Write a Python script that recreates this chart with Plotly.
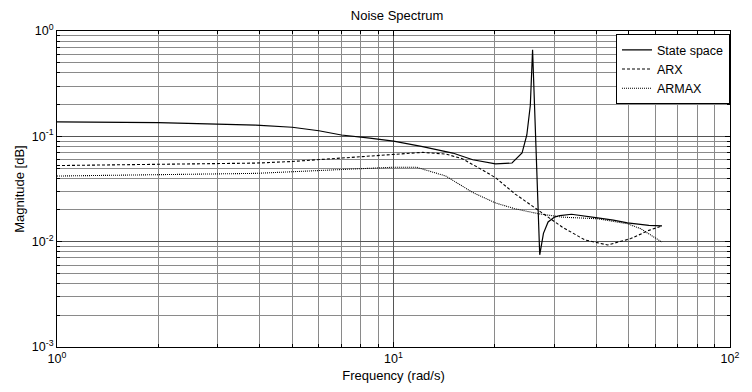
import plotly.graph_objects as go

# State space model spectrum
ss_freq = [1, 2, 3.9, 5, 6, 7, 8.5, 10, 12.2, 15, 17.2, 19, 20.1, 22.5, 24.1, 24.9, 25.5, 25.9,
           27.2, 27.9, 28.8, 30.1, 31.2, 33.8, 37, 40.4, 45, 49.6, 57.4, 62.8]
ss_mag = [0.137, 0.135, 0.128, 0.122, 0.113, 0.103, 0.096, 0.090, 0.080, 0.0694, 0.0599, 0.0565, 0.0547,
          0.0558, 0.0694, 0.103, 0.196, 0.664,
          0.0075, 0.012, 0.0154, 0.0171, 0.0177, 0.0182, 0.0176, 0.0168, 0.016, 0.0151, 0.0143, 0.0141]

# ARX model spectrum
arx_freq = [1, 2, 3.9, 5, 7, 8.05, 10, 12.2, 14.3, 16, 17.9, 20.1, 23, 26.3, 31.7, 37, 43.3, 50.7, 57.4, 62.8]
arx_mag = [0.0528, 0.0539, 0.0557, 0.0577, 0.0623, 0.0646, 0.0679, 0.0704, 0.0679, 0.0614, 0.0502, 0.0405,
           0.0283, 0.0208, 0.0138, 0.0104, 0.0093, 0.0107, 0.0128, 0.0141]

# ARMAX model spectrum
armax_freq = [1, 2, 3.9, 7, 10, 11.7, 14.3, 17.2, 20.1, 23, 27, 31.7, 40.4, 49.6, 54.2, 62.8]
armax_mag = [0.042, 0.0435, 0.0445, 0.0484, 0.0509, 0.0509, 0.042, 0.0293, 0.0233, 0.0205, 0.0184, 0.0171,
             0.0165, 0.0148, 0.0133, 0.0099]

series_names = ["State space", "ARX", "ARMAX"]

x_tickvals = [1, 10, 100]
x_ticktext = ["10<sup>0</sup>", "10<sup>1</sup>", "10<sup>2</sup>"]
y_tickvals = [0.001, 0.01, 0.1, 1]
y_ticktext = ["10<sup>-3</sup>", "10<sup>-2</sup>", "10<sup>-1</sup>", "10<sup>0</sup>"]
x_minor = [m * d for d in (1, 10) for m in range(2, 10)]
y_minor = [m * d for d in (0.001, 0.01, 0.1) for m in range(2, 10)]

FONT = "Liberation Sans, Arial, sans-serif"

fig = go.Figure()
fig.add_trace(go.Scatter(x=ss_freq, y=ss_mag, mode="lines", name=series_names[0],
                         line=dict(color="black", width=1.2, dash="solid")))
fig.add_trace(go.Scatter(x=arx_freq, y=arx_mag, mode="lines", name=series_names[1],
                         line=dict(color="black", width=1.1, dash="3px,2px")))
fig.add_trace(go.Scatter(x=armax_freq, y=armax_mag, mode="lines", name=series_names[2],
                         line=dict(color="black", width=1.1, dash="1px,1px")))

axis_common = dict(
    type="log",
    tickmode="array",
    showline=True, linecolor="black", linewidth=1, mirror="allticks",
    ticks="inside", ticklen=5, tickcolor="black", tickwidth=1,
    showgrid=True, gridcolor="#555555", gridwidth=1,
    zeroline=False,
    tickfont=dict(family=FONT, size=12.5, color="black"),
)

fig.update_xaxes(**axis_common, range=[0, 2], tickvals=x_tickvals, ticktext=x_ticktext,
                 minor=dict(tickmode="array", tickvals=x_minor, ticks="inside", ticklen=3,
                            tickcolor="black", showgrid=True, gridcolor="#8a8a8a", gridwidth=1),
                 title=dict(text="Frequency (rad/s)", font=dict(family=FONT, size=13, color="black"), standoff=5))
fig.update_yaxes(**axis_common, range=[-3, 0], tickvals=y_tickvals, ticktext=y_ticktext,
                 minor=dict(tickmode="array", tickvals=y_minor, ticks="inside", ticklen=3,
                            tickcolor="black", showgrid=True, gridcolor="#8a8a8a", gridwidth=1),
                 title=dict(text="Magnitude [dB]", font=dict(family=FONT, size=13, color="black"), standoff=4))

fig.update_layout(
    width=752, height=392,
    margin=dict(l=57, r=15, t=31, b=40),
    paper_bgcolor="white", plot_bgcolor="white",
    title=dict(text="Noise Spectrum", x=0.528, xanchor="center", y=1 - 15 / 392, yanchor="middle",
               font=dict(family=FONT, size=13, color="black")),
    font=dict(family=FONT, size=12, color="black"),
    legend=dict(x=1, y=0.99, xanchor="right", yanchor="top", bgcolor="white",
                bordercolor="black", borderwidth=1, font=dict(family=FONT, size=12.5, color="black"),
                itemwidth=30, tracegroupgap=0),
    showlegend=True,
)

fig.write_html("out.html")
